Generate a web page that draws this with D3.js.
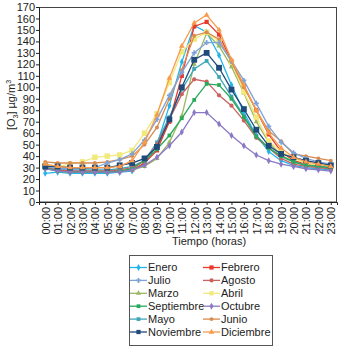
<!DOCTYPE html>
<html>
<head>
<meta charset="utf-8">
<script src="https://cdn.jsdelivr.net/npm/d3@7"></script>
<style>
body { margin: 0; background: #fff; }
text { font-family: "Liberation Sans", Arial, sans-serif; }
</style>
</head>
<body>
<div id="chart"></div>
<script>
var wi = 342;
var he = 352;

var hours = ["00:00","01:00","02:00","03:00","04:00","05:00","06:00","07:00","08:00","09:00","10:00","11:00",
  "12:00","13:00","14:00","15:00","16:00","17:00","18:00","19:00","20:00","21:00","22:00","23:00"];
var yTicks = d3.range(0, 171, 10);

var enero      = [25,26,25,25,25,25,26,27,33,50,84,122,154,148,128,102,78,58,44,36,32,30,29,28];
var febrero    = [30,28,27,27,27,27,27,28,34,45,70,110,153,157,146,123,101,80,59,44,36,33,31,29];
var marzo      = [29,27,26,26,26,26,27,28,31,38,52,75,120,147,136,118,95,70,52,41,35,32,31,30];
var abril      = [32,31,33,35,39,40,41,45,60,77,104,131,142,148,140,122,96,74,53,44,38,34,32,31];
var mayo       = [31,29,28,28,28,28,29,31,36,52,74,98,116,123,109,92,75,58,47,40,35,32,31,30];
var junio      = [35,34,34,34,34,35,37,40,50,65,90,115,145,148,142,122,100,80,62,53,42,40,38,36];
var julio      = [31,29,29,29,30,34,37,42,54,72,93,113,130,139,139,123,106,86,66,52,43,38,35,33];
var agosto     = [30,28,27,27,27,27,28,30,36,50,72,94,107,105,93,84,71,56,47,38,33,31,30,29];
var septiembre = [30,27,26,26,26,26,27,29,36,46,58,73,89,103,102,90,74,57,47,40,35,32,31,30];
var octubre    = [29,27,26,26,26,26,26,28,32,39,49,61,78,78,68,58,49,41,36,33,31,29,28,27];
var noviembre  = [31,31,30,30,30,30,32,34,38,48,72,100,124,130,117,98,81,63,49,42,39,36,34,32];
var diciembre  = [33,31,30,30,30,30,31,36,52,76,108,136,156,163,150,124,102,80,60,47,39,35,33,31];

var series = [
  {name:"Enero", values:enero, color:"#22b5ec", marker:"diamond", size:14},
  {name:"Febrero", values:febrero, color:"#e8392c", marker:"square", size:18},
  {name:"Marzo", values:marzo, color:"#9cb863", marker:"triangle", size:12},
  {name:"Abril", values:abril, color:"#f1e97c", marker:"square", size:30},
  {name:"Mayo", values:mayo, color:"#3fa6b8", marker:"square", size:14},
  {name:"Junio", values:junio, color:"#d88b4f", marker:"circle", size:12},
  {name:"Julio", values:julio, color:"#7ea3d8", marker:"cross", size:14},
  {name:"Agosto", values:agosto, color:"#c9625f", marker:"circle", size:14},
  {name:"Septiembre", values:septiembre, color:"#28a95b", marker:"square", size:14},
  {name:"Octubre", values:octubre, color:"#8b79c4", marker:"diamond", size:14},
  {name:"Noviembre", values:noviembre, color:"#1f4a7a", marker:"square", size:34},
  {name:"Diciembre", values:diciembre, color:"#f79a4c", marker:"triangle", size:14}
];
var legendOrder = ["Enero","Febrero","Julio","Agosto","Marzo","Abril","Septiembre","Octubre","Mayo","Junio","Noviembre","Diciembre"];

var symbols = {
  diamond: d3.symbolDiamond, square: d3.symbolSquare, triangle: d3.symbolTriangle,
  circle: d3.symbolCircle, cross: d3.symbolCross
};

var svg = d3.select("#chart").append("svg")
  .attr("width", wi)
  .attr("height", he);

var xScale = d3.scalePoint()
  .domain(hours)
  .range([39, 337])
  .padding(0.5);
var yScale = d3.scaleLinear()
  .domain([0, 170])
  .range([202, 7]);

// frame
svg.append("rect")
  .attr("x", 39.5).attr("y", 7.5)
  .attr("width", 297).attr("height", 194.5)
  .attr("fill", "none")
  .attr("stroke", "#444");

var line = d3.line()
  .x(function(d, i) { return xScale(hours[i]); })
  .y(function(d) { return yScale(d); });

series.forEach(function(s) {
  var g = svg.append("g");
  g.append("path")
    .attr("d", line(s.values))
    .attr("fill", "none")
    .attr("stroke", s.color)
    .attr("stroke-width", 1.3);
  g.selectAll("path.m")
    .data(s.values)
    .enter()
    .append("path")
    .attr("class", "m")
    .attr("d", d3.symbol().type(symbols[s.marker]).size(s.size))
    .attr("transform", function(d, i) {
      return "translate(" + xScale(hours[i]) + "," + yScale(d) + ")";
    })
    .attr("fill", s.color);
});

var xAxis = d3.axisBottom(xScale).tickSize(3);
var yAxis = d3.axisLeft(yScale).tickValues(yTicks).tickSize(3).tickPadding(1);

var gx = svg.append("g")
  .attr("transform", "translate(0,202)")
  .call(xAxis);
gx.selectAll("text")
  .attr("transform", "rotate(-90)")
  .attr("x", -5)
  .attr("y", 0)
  .attr("dy", "0.36em")
  .style("text-anchor", "end");

var gy = svg.append("g")
  .attr("transform", "translate(39,0)")
  .call(yAxis);

[gx, gy].forEach(function(g) {
  g.selectAll("text").attr("font-size", 11).attr("fill", "#222")
    .attr("font-family", "Liberation Sans, Arial, sans-serif");
  g.selectAll("line").attr("stroke", "#222");
  g.select(".domain").attr("stroke", "#222");
});

svg.append("text")
  .attr("x", 209)
  .attr("y", 245)
  .attr("text-anchor", "middle")
  .attr("font-size", 11)
  .attr("fill", "#222")
  .text("Tiempo (horas)");

var yt = svg.append("text")
  .attr("transform", "translate(15,105) rotate(-90)")
  .attr("text-anchor", "middle")
  .attr("font-size", 11)
  .attr("fill", "#222");
yt.append("tspan").text("[O");
yt.append("tspan").attr("font-size", 7).attr("dy", 3).text("3");
yt.append("tspan").attr("dy", -3).text("] µg/m");
yt.append("tspan").attr("font-size", 7).attr("dy", -4).text("3");

// legend
var legend = svg.append("g");
legend.append("rect")
  .attr("x", 129.5).attr("y", 255.5)
  .attr("width", 143).attr("height", 90)
  .attr("fill", "none")
  .attr("stroke", "#555");

var byName = {};
series.forEach(function(s) { byName[s.name] = s; });

legendOrder.forEach(function(n, i) {
  var s = byName[n];
  var col = i % 2, row = Math.floor(i / 2);
  var lx = col === 0 ? 130 : 203;
  var ly = 267.5 + row * 12.9;
  var item = legend.append("g");
  item.append("line")
    .attr("x1", lx).attr("x2", lx + 17)
    .attr("y1", ly).attr("y2", ly)
    .attr("stroke", s.color)
    .attr("stroke-width", 1.3);
  item.append("path")
    .attr("d", d3.symbol().type(symbols[s.marker]).size(s.size > 20 ? 18 : s.size))
    .attr("transform", "translate(" + (lx + 8.5) + "," + ly + ")")
    .attr("fill", s.color);
  item.append("text")
    .attr("x", lx + 18)
    .attr("y", ly)
    .attr("dy", "0.36em")
    .attr("font-size", 11)
    .attr("fill", "#222")
    .text(s.name);
});
</script>
</body>
</html>
